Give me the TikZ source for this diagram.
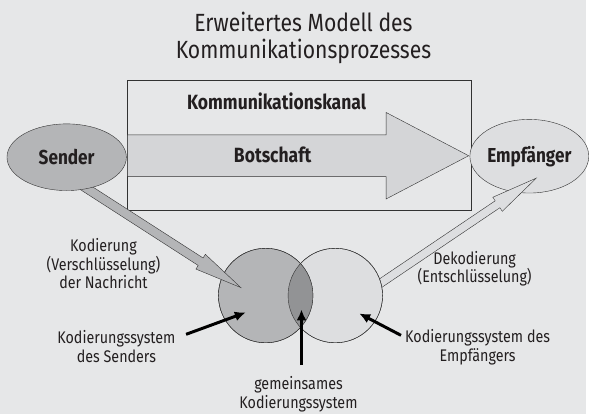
\documentclass[tikz,border=0pt]{standalone}
\usepackage{fontspec}
\setmainfont{Fira Sans}[FakeStretch=0.85]
\usetikzlibrary{calc,arrows.meta,shapes.geometric}
\definecolor{bg}{RGB}{230,231,232}
\definecolor{ink}{RGB}{35,31,32}
\definecolor{rim}{RGB}{50,50,50}
\definecolor{darkfill}{RGB}{180,181,183}
\definecolor{lightfill}{RGB}{221,222,224}
\definecolor{pathfill}{RGB}{212,213,215}
\definecolor{commonfill}{RGB}{146,147,149}
\tikzset{%
  party/.style={
    ellipse,
    draw=rim,
    inner sep=0pt,
    text=ink,
    font=\bfseries\fontsize{20.3}{22}\selectfont
  },
  codesys/.style={
    circle,
    draw=rim,
    inner sep=0pt,
    minimum size=95pt
  },
  note/.style={
    align=center,
    text=ink,
    font=\fontsize{16.9}{18.8}\selectfont
  },
  pointer/.style={
    -{Latex[length=11pt,width=10pt]},
    line width=3pt
  },
}
% broad arrow from #2 to #3: half shaft, half head, head length
\newcommand{\fatarrow}[6][]{%
  \coordinate (fa-h) at ($(#3)!#6!(#2)$);
  \draw[#1] ($(#2)!#4!90:(#3)$) -- ($(fa-h)!#4!90:(#3)$) -- ($(fa-h)!#5!90:(#3)$) -- (#3)
    -- ($(fa-h)!#5!-90:(#3)$) -- ($(fa-h)!#4!-90:(#3)$) -- ($(#2)!#4!-90:(#3)$) -- cycle;
}

\begin{document}
\begin{tikzpicture}[x=1pt,y=-1pt,line join=miter]
      \tikzstyle{bold}=[text=ink,font=\bfseries\fontsize{20.7}{22}\selectfont,anchor=base]

      \fill[bg] (0,0) rectangle (589,416);
      \node[text=ink,align=center,font=\fontsize{25}{27}\selectfont] (titel) at (305,38)
        {Erweitertes Modell des\\Kommunikationsprozesses};

      % channel and message
      \node[draw=rim,minimum width=346pt,minimum height=130pt,inner sep=0pt] (kanal) at (301,146) {};
      \coordinate (bstart) at (128,156.5);
      \coordinate (btip) at (471,156.5);
      \fatarrow[draw=rim,fill=pathfill]{bstart}{btip}{21pt}{43.5pt}{83pt}
      \node[bold] (kanaltext) at (278,110) {Kommunikationskanal};
      \node[bold] (botschaft) at (274,163) {Botschaft};

      % receiver side
      \node[party,fill=lightfill,minimum width=112pt,minimum height=74pt] (empf) at (532,157) {Empfänger};
      \coordinate (dekfuss) at (370,293);
      \coordinate (dektip) at (539,179);
      \fatarrow[draw=rim,fill=lightfill]{dekfuss}{dektip}{4.2pt}{8.5pt}{47pt}

      % coding systems
      \node[codesys,fill=lightfill] (kreisE) at (337,297) {};
      \node[codesys,fill=darkfill] (kreisS) at (267,297) {};
      \begin{scope}
        \clip (kreisS.center) circle (47.5pt);
        \fill[commonfill] (kreisE.center) circle (47.5pt);
      \end{scope}
      \draw[rim] (kreisS.center) circle (47.5pt);
      \draw[rim] (kreisE.center) circle (47.5pt);

      % sender side
      \coordinate (kodfuss) at (82,186);
      \coordinate (kodtip) at (242,289);
      \fatarrow[draw=rim,fill=darkfill]{kodfuss}{kodtip}{4.5pt}{8.8pt}{48pt}
      \node[party,fill=darkfill,minimum width=120pt,minimum height=67pt] (sender) at (67,158) {Sender};

      % labels
      \node[note] (kodierung) at (104,265) {Kodierung\\(Verschlüsselung)\\der Nachricht};
      \node[note] (dekodierung) at (477,270) {Dekodierung\\(Entschlüsselung)};
      \node[note] (sysS) at (117,348) {Kodierungssystem\\des Senders};
      \node[note] (sysE) at (480,349) {Kodierungssystem des\\Empfängers};
      \node[note] (gemeinsam) at (300,396) {gemeinsames\\Kodierungssystem};

      \coordinate (pS) at (187,336);
      \coordinate (pG) at (303,367);
      \coordinate (pE) at (403,337);
      \coordinate (tS) at (247,314);
      \coordinate (tG) at (303,311);
      \coordinate (tE) at (361,315);
      \draw[pointer] (pS) -- (tS);
      \draw[pointer] (pG) -- (tG);
      \draw[pointer] (pE) -- (tE);
\end{tikzpicture}
\end{document}
